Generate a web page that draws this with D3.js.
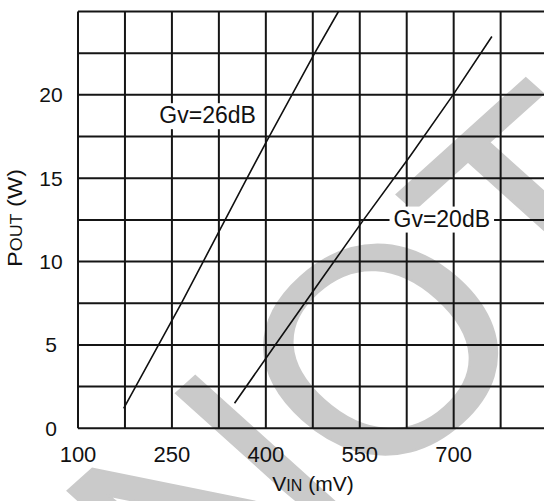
<!DOCTYPE html>
<html>
<head>
<meta charset="utf-8">
<script src="https://cdn.jsdelivr.net/npm/d3@7/dist/d3.min.js"></script>
<style>
  html, body { margin: 0; padding: 0; background: #fff; }
  svg { display: block; font-family: "Liberation Sans", Arial, sans-serif; }
</style>
</head>
<body>
<svg id="chart" width="544" height="501"></svg>
<script>
// ---- data ----
const xTickValues = [100, 250, 400, 550, 700];
const yTickValues = [0, 5, 10, 15, 20];
const gv26Vin  = [173, 265, 300, 367, 401, 478, 516];
const gv26Pout = [1.2, 7.5, 10.0, 14.8, 17.2, 22.5, 25.0];
const gv20Vin  = [350, 415, 490, 556, 630, 699, 761];
const gv20Pout = [1.5, 5.0, 9.0, 12.5, 16.3, 20.0, 23.5];
const seriesNames = ["Gv=26dB", "Gv=20dB"];
const labelVin  = [307, 681];
const labelPout = [18.3, 12.1];
const xTitleMain = "V", xTitleSub = "IN", xTitleUnit = " (mV)";
const yTitleMain = "P", yTitleSub = "OUT", yTitleUnit = " (W)";
const watermarkText = "NOT";

(function () {
// ---- layout ----
const svg = d3.select("#chart");
const plotLeft = 78, plotTop = 11.5, plotBottom = 428.3;
const x = d3.scaleLinear().domain([100, 850]).range([plotLeft, plotLeft + 750 / 75 * 46.96]);
const y = d3.scaleLinear().domain([0, 25]).range([plotBottom, plotTop]);

// watermark (behind everything)
const wmSize = 291;
svg.append("g")
  .attr("transform", "translate(378,347) scale(1.11,1) rotate(-45)")
  .append("text")
  .attr("x", -0.0555 * wmSize).attr("y", 0.358 * wmSize)
  .attr("text-anchor", "middle")
  .attr("font-size", wmSize)
  .attr("fill", "#cacaca")
  .attr("stroke", "#cacaca").attr("stroke-width", 2)
  .text(watermarkText);

// grid
const g = svg.append("g");
const xGridVals = d3.range(100, 850, 75);
const yGridVals = d3.range(0, 25.01, 2.5);
g.selectAll("line.v").data(xGridVals).join("line")
  .attr("class", "v")
  .attr("x1", d => x(d)).attr("x2", d => x(d))
  .attr("y1", y(0)).attr("y2", y(25))
  .attr("stroke", "#151515").attr("stroke-width", 2);
g.selectAll("line.h").data(yGridVals).join("line")
  .attr("class", "h")
  .attr("x1", x(100)).attr("x2", x(850))
  .attr("y1", d => y(d)).attr("y2", d => y(d))
  .attr("stroke", "#151515").attr("stroke-width", 2);

// clip
svg.append("clipPath").attr("id", "clip").append("rect")
  .attr("x", x(100)).attr("y", y(25)).attr("width", x(850) - x(100)).attr("height", y(0) - y(25));

const line = d3.line().x(d => x(d[0])).y(d => y(d[1]));
const series = [d3.zip(gv26Vin, gv26Pout), d3.zip(gv20Vin, gv20Pout)];
svg.append("g").attr("clip-path", "url(#clip)")
  .selectAll("path").data(series).join("path")
  .attr("d", line).attr("fill", "none").attr("stroke", "#111").attr("stroke-width", 1.6);

// series labels with white boxes
seriesNames.forEach((name, i) => {
  const cx = x(labelVin[i]), by = y(labelPout[i]);
  const t = svg.append("text")
    .attr("x", cx).attr("y", by)
    .attr("text-anchor", "middle")
    .attr("font-size", 23).attr("fill", "#111")
    .text(name);
  const bb = t.node().getBBox();
  svg.insert("rect", () => t.node())
    .attr("x", bb.x - 4).attr("y", bb.y + 1).attr("width", bb.width + 8).attr("height", bb.height)
    .attr("fill", "#fff");
});

// tick labels
svg.selectAll("text.xt").data(xTickValues).join("text")
  .attr("class", "xt")
  .attr("x", d => x(d)).attr("y", 462)
  .attr("text-anchor", "middle").attr("font-size", 22).attr("fill", "#111")
  .text(d => d);
svg.selectAll("text.yt").data(yTickValues).join("text")
  .attr("class", "yt")
  .attr("x", 51).attr("y", d => y(d) + 7.5)
  .attr("text-anchor", "middle").attr("font-size", 21).attr("fill", "#111")
  .text(d => d);

// axis titles
const xt = svg.append("text").attr("x", 313).attr("y", 491)
  .attr("text-anchor", "middle").attr("font-size", 21).attr("fill", "#111");
xt.append("tspan").text(xTitleMain);
xt.append("tspan").attr("font-size", 16).text(xTitleSub);
xt.append("tspan").text(xTitleUnit);

const yt = svg.append("text").attr("transform", "translate(22,218) rotate(-90)")
  .attr("text-anchor", "middle").attr("font-size", 21).attr("fill", "#111")
  .attr("textLength", 98).attr("lengthAdjust", "spacingAndGlyphs");
yt.append("tspan").text(yTitleMain);
yt.append("tspan").attr("font-size", 16).text(yTitleSub);
yt.append("tspan").text(yTitleUnit);
})();
</script>
</body>
</html>
